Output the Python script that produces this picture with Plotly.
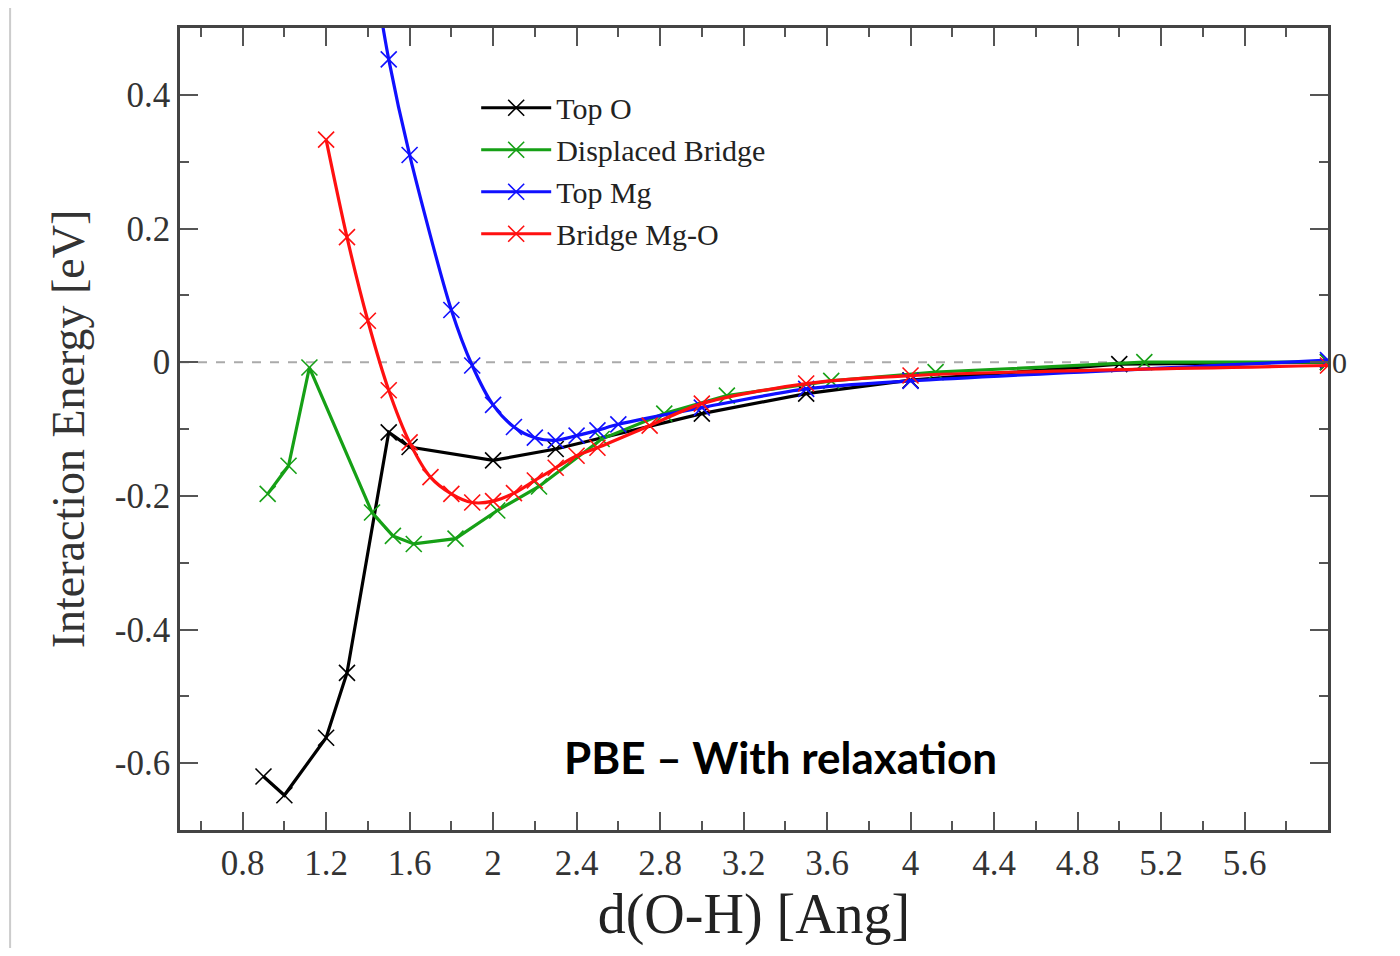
import plotly.graph_objects as go

# ---- data ----
top_o_x = [0.9, 1.0, 1.2, 1.3, 1.5, 1.6, 2.0, 2.3, 3.0, 3.5, 4.0, 5.0, 6.0]
top_o_y = [-0.62, -0.648, -0.562, -0.465, -0.105, -0.127, -0.147, -0.13, -0.077, -0.047, -0.027, -0.003, 0.0]

disp_x = [0.92, 1.02, 1.12, 1.42, 1.52, 1.62, 1.82, 2.02, 2.22, 2.52, 2.82, 3.12, 3.62, 4.12, 5.12, 6.0]
disp_y = [-0.197, -0.155, -0.008, -0.225, -0.26, -0.272, -0.264, -0.222, -0.186, -0.115, -0.077, -0.05, -0.028, -0.015, 0.0, 0.0]

top_mg_x = [1.4, 1.5, 1.6, 1.8, 1.9, 2.0, 2.1, 2.2, 2.3, 2.4, 2.5, 2.6, 3.0, 3.5, 4.0, 6.0]
top_mg_y = [0.64, 0.453, 0.31, 0.078, -0.005, -0.064, -0.097, -0.113, -0.117, -0.11, -0.102, -0.093, -0.068, -0.04, -0.028, 0.003]

bridge_x = [1.2, 1.3, 1.4, 1.5, 1.6, 1.7, 1.8, 1.9, 2.0, 2.1, 2.2, 2.3, 2.4, 2.5, 2.75, 3.0, 3.5, 4.0, 6.0]
bridge_y = [0.333, 0.187, 0.062, -0.042, -0.12, -0.172, -0.197, -0.21, -0.208, -0.196, -0.177, -0.158, -0.14, -0.128, -0.095, -0.062, -0.032, -0.02, -0.005]

x_tick_vals = [0.8, 1.2, 1.6, 2.0, 2.4, 2.8, 3.2, 3.6, 4.0, 4.4, 4.8, 5.2, 5.6]
x_tick_text = ["0.8", "1.2", "1.6", "2", "2.4", "2.8", "3.2", "3.6", "4", "4.4", "4.8", "5.2", "5.6"]
y_tick_vals = [-0.6, -0.4, -0.2, 0.0, 0.2, 0.4]
y_tick_text = ["-0.6", "-0.4", "-0.2", "0", "0.2", "0.4"]

series = [
    ("Top O", top_o_x, top_o_y, "#000000", "linear"),
    ("Displaced Bridge", disp_x, disp_y, "#16a016", "linear"),
    ("Top Mg", top_mg_x, top_mg_y, "#1010ff", "spline"),
    ("Bridge Mg-O", bridge_x, bridge_y, "#ff1010", "spline"),
]

SERIF = "Liberation Serif, Times New Roman, serif"

fig = go.Figure()

# zero reference dashed line
fig.add_trace(go.Scatter(x=[0.5, 6.0], y=[0, 0], mode="lines",
                         line=dict(color="#aaaaaa", width=2, dash="dash"),
                         showlegend=False, hoverinfo="skip"))

for name, xs, ys, col, shape in series:
    fig.add_trace(go.Scatter(
        x=xs, y=ys, name=name, mode="lines+markers",
        line=dict(color=col, width=3.2, shape=shape, smoothing=0.8),
        marker=dict(symbol="x-thin", size=16, color=col, line=dict(color=col, width=1.6)),
        cliponaxis=True,
    ))

axis_font = dict(family=SERIF, size=35, color="#333333")

fig.update_xaxes(
    range=[0.5, 6.0], tickmode="array", tickvals=x_tick_vals, ticktext=x_tick_text,
    ticks="inside", ticklen=18, tickwidth=1.5, tickcolor="#555555",
    minor=dict(ticks="inside", ticklen=9, tickwidth=1.5, tickcolor="#555555", dtick=0.2, tick0=0.6),
    showline=True, linecolor="#444444", linewidth=2.5, mirror="allticks",
    showgrid=False, zeroline=False, tickfont=axis_font,
    title=dict(text="d(O-H) [Ang]", font=dict(family=SERIF, size=56, color="#222222"), standoff=4),
)
fig.update_yaxes(
    range=[-0.7, 0.5], tickmode="array", tickvals=y_tick_vals, ticktext=y_tick_text,
    ticks="inside", ticklen=18, tickwidth=1.5, tickcolor="#555555",
    minor=dict(ticks="inside", ticklen=9, tickwidth=1.5, tickcolor="#555555", dtick=0.1, tick0=0.0),
    showline=True, linecolor="#444444", linewidth=2.5, mirror="allticks",
    showgrid=False, zeroline=False, tickfont=axis_font,
    title=dict(text="Interaction Energy [eV]", font=dict(family=SERIF, size=46, color="#333333"), standoff=16),
)

fig.add_annotation(x=3.375, y=-0.591, xref="x", yref="y", text="<b>PBE – With relaxation</b>",
                   showarrow=False, font=dict(family="Lato, Open Sans, sans-serif", size=44, color="#000000"))
fig.add_annotation(x=1.0, y=0.0, xref="paper", yref="y", xanchor="left", xshift=2,
                   text="0", showarrow=False,
                   font=dict(family=SERIF, size=30, color="#333333"))

# thin frame line on the left edge of the picture
fig.add_shape(type="line", xref="paper", yref="paper", x0=-0.148, x1=-0.148, y0=-0.157, y1=1.035,
              line=dict(color="#cccccc", width=2))

fig.update_layout(
    width=1384, height=940,
    margin=dict(l=172, r=64, t=20, b=118),
    paper_bgcolor="white", plot_bgcolor="white",
    legend=dict(x=0.258, y=0.933, xanchor="left", yanchor="top", bgcolor="rgba(0,0,0,0)",
                font=dict(family=SERIF, size=30, color="#222222"),
                itemwidth=70, tracegroupgap=0),
    showlegend=True,
)

fig.write_html("out.html")
